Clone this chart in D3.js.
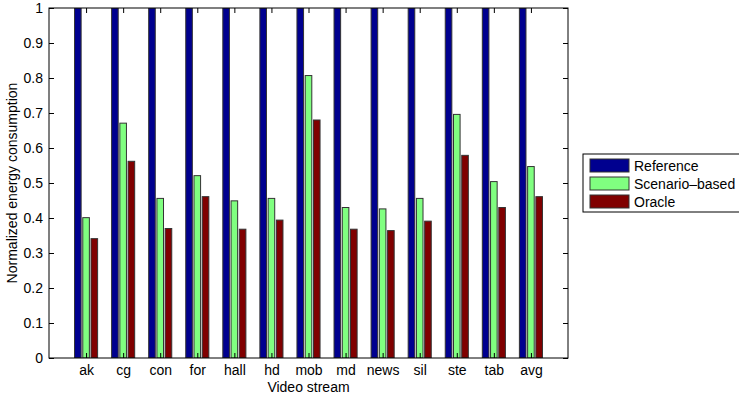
<!DOCTYPE html>
<html>
<head>
<meta charset="utf-8">
<script src="https://cdn.jsdelivr.net/npm/d3@7"></script>
<style>
  body { margin: 0; background: #fff; }
  text { font-family: "Liberation Sans", Arial, Helvetica, sans-serif; fill: #000; }
</style>
</head>
<body>
<div id="chart"></div>
<script>
// data
const streams = ["ak", "cg", "con", "for", "hall", "hd", "mob", "md", "news", "sil", "ste", "tab", "avg"];
const seriesNames = ["Reference", "Scenario\u2013based", "Oracle"];
const reference = [1, 1, 1, 1, 1, 1, 1, 1, 1, 1, 1, 1, 1];
const scenario = [0.401, 0.671, 0.456, 0.521, 0.449, 0.456, 0.807, 0.430, 0.426, 0.456, 0.696, 0.504, 0.547];
const oracle = [0.341, 0.562, 0.370, 0.461, 0.368, 0.394, 0.680, 0.368, 0.364, 0.391, 0.579, 0.430, 0.461];
const yTicks = [0, 0.1, 0.2, 0.3, 0.4, 0.5, 0.6, 0.7, 0.8, 0.9, 1];
const colors = ["#00008f", "#80ff80", "#800000"];

const series = [reference, scenario, oracle];

const svg = d3.select("#chart").append("svg")
    .attr("width", 739)
    .attr("height", 396);

const margin = {top: 8, left: 49, right: 171, bottom: 38},
      width = 739 - margin.left - margin.right,
      height = 396 - margin.top - margin.bottom;

// matlab style: categories at 1..n, xlim [0, n+1]
const x = d3.scaleLinear().domain([0, streams.length + 1]).range([0, width]);
const y = d3.scaleLinear().domain([0, 1]).range([height, 0]);

const groupW = 0.667, step = groupW / 3, barW = step * 0.8;

const g = svg.append("g")
    .attr("transform", `translate(${margin.left},${margin.top})`);

g.append("clipPath").attr("id", "clip")
  .append("rect").attr("width", width).attr("height", height);

const bars = g.append("g").attr("clip-path", "url(#clip)");
series.forEach((vals, s) => {
    bars.selectAll(".bar" + s)
        .data(vals)
        .enter().append("rect")
        .attr("x", (d, i) => x(i + 1 + (s - 1) * step - barW / 2))
        .attr("y", d => y(d))
        .attr("width", x(barW) - x(0))
        .attr("height", d => height - y(d))
        .attr("fill", colors[s])
        .attr("stroke", "#333")
        .attr("stroke-width", 1);
});

// axes, ticks drawn inward like matlab
const xt = streams.map((d, i) => i + 1);
g.append("g")
    .attr("transform", `translate(0,${height})`)
    .call(d3.axisBottom(x).tickValues(xt).tickFormat((d, i) => streams[i]).tickSizeInner(-5).tickSizeOuter(0).tickPadding(7))
    .call(a => a.select(".domain").remove());
g.append("g")
    .call(d3.axisTop(x).tickValues(xt).tickFormat("").tickSizeInner(-5).tickSizeOuter(0))
    .call(a => a.select(".domain").remove());
g.append("g")
    .call(d3.axisLeft(y).tickValues(yTicks).tickFormat(d3.format("")).tickSizeInner(-5).tickSizeOuter(0).tickPadding(6))
    .call(a => a.select(".domain").remove());
g.append("g")
    .attr("transform", `translate(${width},0)`)
    .call(d3.axisRight(y).tickValues(yTicks).tickFormat("").tickSizeInner(-5).tickSizeOuter(0))
    .call(a => a.select(".domain").remove());

g.selectAll(".tick text").style("font-size", "14px");
g.selectAll(".tick line").attr("stroke", "#000");

g.append("rect")
    .attr("width", width).attr("height", height)
    .attr("fill", "none").attr("stroke", "#000").attr("stroke-width", 1);

// axis titles
svg.append("text")
    .attr("x", margin.left + width / 2).attr("y", 392)
    .attr("text-anchor", "middle")
    .style("font-size", "14px")
    .text("Video stream");

svg.append("text")
    .attr("transform", `translate(17,${margin.top + height / 2}) rotate(-90)`)
    .attr("text-anchor", "middle")
    .style("font-size", "14px")
    .text("Normalized energy consumption");

// legend
const lg = svg.append("g").attr("transform", "translate(583,154)");
lg.append("rect")
    .attr("width", 170).attr("height", 58)
    .attr("fill", "#fff").attr("stroke", "#000");
seriesNames.forEach((name, i) => {
    lg.append("rect")
        .attr("x", 7).attr("y", 5 + i * 18)
        .attr("width", 39).attr("height", 13)
        .attr("fill", colors[i]).attr("stroke", "#333");
    lg.append("text")
        .attr("x", 51).attr("y", 17 + i * 18)
        .style("font-size", "14px")
        .text(name);
});
</script>
</body>
</html>
